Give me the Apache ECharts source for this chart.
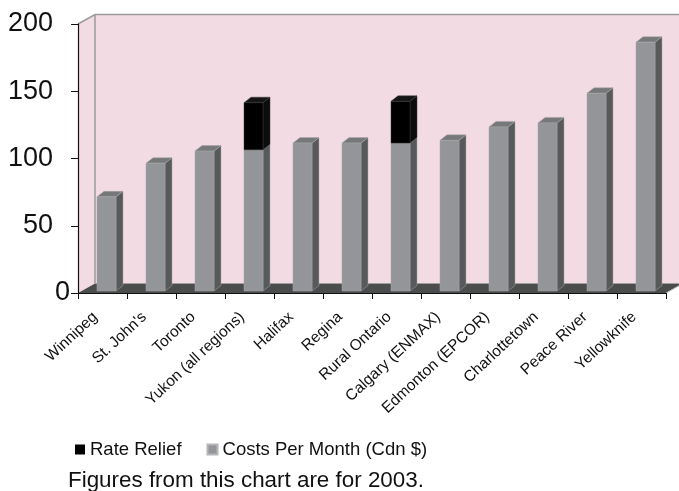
<!DOCTYPE html>
<html>
<head>
<meta charset="utf-8">
<script src="https://cdn.jsdelivr.net/npm/echarts@6/dist/echarts.min.js"></script>
<style>
  html, body { margin: 0; padding: 0; background: #fff; }
  #chart { width: 679px; height: 491px; }
</style>
</head>
<body>
<div id="chart"></div>
<script>
// Monthly electricity costs by city, 2003
const cities = ['Winnipeg', "St. John's", 'Toronto', 'Yukon (all regions)', 'Halifax', 'Regina',
  'Rural Ontario', 'Calgary (ENMAX)', 'Edmonton (EPCOR)', 'Charlottetown', 'Peace River', 'Yellowknife'];
const costsPerMonth = [70, 95, 104, 105, 110, 110, 110, 112, 122, 125, 147, 185];
const rateRelief = [0, 0, 0, 35, 0, 0, 31, 0, 0, 0, 0, 0];
const valueTicks = [0, 50, 100, 150, 200];

const FONT = '"Liberation Sans", Arial, Helvetica, sans-serif';

// Pseudo-3D depth of the plot box and of each column
const DEPTH = [17, -9.5];
const BAR_DEPTH = [7, -5.5];
const BAR_SHIFT = [4, -2];
const BAR_WIDTH = 19;

const chart = echarts.init(document.getElementById('chart'));

// Back wall, side wall and floor of the plot box
function renderBox(params, api) {
  const cs = params.coordSys;
  const x0 = cs.x, x1 = cs.x + cs.width;
  const yTop = cs.y, yBot = cs.y + cs.height;
  const dx = DEPTH[0], dy = DEPTH[1];
  const wall = '#f3dbe3', edge = '#9a9a9c';
  return {
    type: 'group',
    children: [
      { type: 'polygon', shape: { points: [[x0 + dx, yTop + dy], [x1 + dx + 20, yTop + dy], [x1 + dx + 20, yBot + dy], [x0 + dx, yBot + dy]] },
        style: { fill: wall } },
      { type: 'polygon', shape: { points: [[x0, yTop], [x0 + dx, yTop + dy], [x0 + dx, yBot + dy], [x0, yBot]] },
        style: { fill: wall } },
      { type: 'polygon', shape: { points: [[x0, yBot], [x0 + dx, yBot + dy], [x1 + dx, yBot + dy], [x1, yBot]] },
        style: { fill: '#4b4d4d' } },
      { type: 'polyline', shape: { points: [[x0, yTop], [x0 + dx, yTop + dy], [x1 + dx + 20, yTop + dy]] },
        style: { stroke: edge, lineWidth: 1.5, fill: null } },
      { type: 'line', shape: { x1: x0 + dx, y1: yTop + dy, x2: x0 + dx, y2: yBot + dy },
        style: { stroke: edge, lineWidth: 1.5 } },
      { type: 'line', shape: { x1: x1, y1: yBot, x2: x1 + dx, y2: yBot + dy },
        style: { stroke: '#bbbbbb', lineWidth: 1 } }
    ]
  };
}

// One column segment with front, side and top faces
function makeColumn(colors, getRange) {
  return function (params, api) {
    const i = api.value(0);
    const [lo, hi] = getRange(params.dataIndex);
    if (hi <= lo) return null;
    const pLo = api.coord([i, lo]);
    const pHi = api.coord([i, hi]);
    const cx = pLo[0] + BAR_SHIFT[0];
    const left = cx - BAR_WIDTH / 2, right = cx + BAR_WIDTH / 2;
    const yb = pLo[1] + BAR_SHIFT[1], yt = pHi[1] + BAR_SHIFT[1];
    const bx = BAR_DEPTH[0], by = BAR_DEPTH[1];
    return {
      type: 'group',
      children: [
        { type: 'polygon', shape: { points: [[right, yt], [right + bx, yt + by], [right + bx, yb + by], [right, yb]] },
          style: { fill: colors.side, stroke: colors.edge, lineWidth: 0.5 } },
        { type: 'polygon', shape: { points: [[left, yt], [left + bx, yt + by], [right + bx, yt + by], [right, yt]] },
          style: { fill: colors.top, stroke: colors.edge, lineWidth: 0.5 } },
        { type: 'rect', shape: { x: left, y: yt, width: BAR_WIDTH, height: yb - yt },
          style: { fill: colors.front, stroke: colors.edge, lineWidth: 0.5 } }
      ]
    };
  };
}

const grayCols = { front: '#939598', side: '#58595b', top: '#77787a', edge: '#a6a7a9' };
const blackCols = { front: '#000000', side: '#0c0c0c', top: '#151515', edge: '#3a3a3a' };

chart.setOption({
  animation: false,
  textStyle: { fontFamily: FONT },
  grid: { left: 78, right: 13, top: 24, bottom: 198, containLabel: false },
  xAxis: {
    type: 'category',
    data: cities,
    boundaryGap: true,
    axisLine: { show: true, lineStyle: { color: '#111', width: 1 } },
    axisTick: { show: true, length: 6, lineStyle: { color: '#111' } },
    axisLabel: {
      rotate: 43, fontSize: 15.5, color: '#111', margin: 15, interval: 0,
      padding: [0, 10, 0, 0], fontFamily: FONT
    },
    splitLine: { show: false },
    z: 5
  },
  yAxis: {
    type: 'value',
    min: valueTicks[0],
    max: valueTicks[valueTicks.length - 1],
    interval: 50,
    axisLine: { show: true, lineStyle: { color: '#111', width: 1.2 } },
    axisTick: { show: true, length: 7, lineStyle: { color: '#111' } },
    axisLabel: {
      margin: 8,
      fontSize: 27,
      color: '#111',
      fontFamily: FONT,
      formatter: function (v) { return v === 0 ? '{v|0}' : '{v|' + v + '}{s|}'; },
      rich: {
        v: { fontSize: 27, color: '#111', fontFamily: FONT },
        s: { width: 17 }
      }
    },
    splitLine: { show: false },
    z: 5
  },
  legend: {
    left: 75,
    top: 440,
    padding: 0,
    itemWidth: 10,
    itemHeight: 10,
    itemGap: 25,
    icon: 'rect',
    textStyle: { fontSize: 18.5, color: '#111', fontFamily: FONT },
    data: ['Rate Relief', 'Costs Per Month (Cdn $)']
  },
  title: {
    text: 'Figures from this chart are for 2003.',
    left: 63,
    top: 465,
    textStyle: { fontSize: 22.4, fontWeight: 'normal', color: '#111', fontFamily: FONT }
  },
  series: [
    {
      name: 'box',
      type: 'custom',
      renderItem: renderBox,
      data: [[0]],
      silent: true,
      z: 0
    },
    {
      name: 'Costs Per Month (Cdn $)',
      type: 'custom',
      itemStyle: { color: '#939598', borderColor: '#b5b6b8', borderWidth: 1 },
      renderItem: makeColumn(grayCols, function (k) { return [0, costsPerMonth[k]]; }),
      encode: { x: 0, y: 1 },
      data: costsPerMonth.map(function (v, k) { return [k, v]; }),
      z: 2
    },
    {
      name: 'Rate Relief',
      type: 'custom',
      itemStyle: { color: '#000000' },
      renderItem: makeColumn(blackCols, function (k) { return [costsPerMonth[k], costsPerMonth[k] + rateRelief[k]]; }),
      encode: { x: 0, y: 1 },
      data: rateRelief.map(function (v, k) { return [k, costsPerMonth[k] + v]; }),
      z: 3
    }
  ]
});
</script>
</body>
</html>
